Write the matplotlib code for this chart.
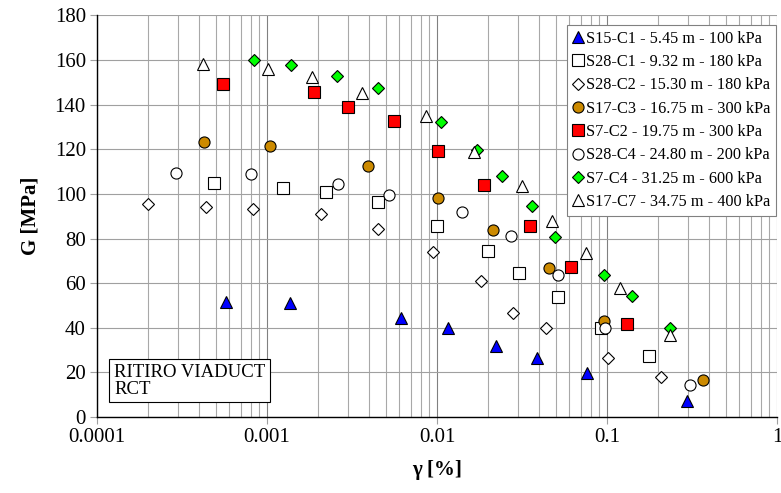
import numpy as np
import matplotlib
matplotlib.use('Agg')
import matplotlib.pyplot as plt
from matplotlib.ticker import LogLocator, FixedLocator, NullFormatter, FixedFormatter

plt.rcParams['font.family'] = ['Liberation Serif', 'DejaVu Serif']

# shear strain [%] and shear modulus G [MPa] for each specimen
s15_c1_x = [0.000574, 0.00136, 0.00611, 0.0116, 0.0222, 0.0387, 0.0763, 0.295]
s15_c1_g = [51.6, 51.0, 44.2, 39.8, 32.0, 26.3, 19.7, 7.2]

s28_c1_x = [0.000488, 0.00124, 0.00222, 0.00450, 0.00995, 0.0200, 0.0305, 0.0515, 0.0922, 0.176]
s28_c1_g = [104.9, 102.8, 100.9, 96.4, 85.8, 74.3, 64.4, 53.7, 40.0, 27.3]

s28_c2_x = [0.000200, 0.000438, 0.000827, 0.00209, 0.00450, 0.00944, 0.0182, 0.0279, 0.0436, 0.101, 0.207]
s28_c2_g = [95.3, 94.3, 93.4, 90.9, 84.3, 74.0, 61.0, 46.5, 39.9, 26.6, 17.8]

s17_c3_x = [0.000428, 0.00104, 0.00391, 0.0102, 0.0213, 0.0454, 0.0964, 0.366]
s17_c3_g = [123.3, 121.5, 112.5, 98.2, 83.8, 66.8, 43.0, 16.6]

s7_c2_x = [0.000551, 0.00190, 0.00299, 0.00558, 0.0101, 0.0188, 0.0351, 0.0611, 0.131]
s7_c2_g = [149.3, 145.7, 138.8, 132.8, 119.1, 104.0, 85.8, 67.4, 41.7]

s28_c4_x = [0.000290, 0.000809, 0.00260, 0.00524, 0.0140, 0.0272, 0.0517, 0.0973, 0.307]
s28_c4_g = [109.4, 108.9, 104.5, 99.7, 92.0, 81.0, 63.8, 39.8, 14.3]

s7_c4_x = [0.000839, 0.00138, 0.00258, 0.00452, 0.0105, 0.0171, 0.0241, 0.0361, 0.0492, 0.0955, 0.140, 0.235]
s7_c4_g = [159.9, 158.0, 152.9, 147.6, 132.4, 119.7, 107.9, 94.7, 80.8, 63.8, 54.1, 40.0]

s17_c7_x = [0.000421, 0.00101, 0.00184, 0.00360, 0.00860, 0.0166, 0.0316, 0.0476, 0.0752, 0.120, 0.235]
s17_c7_g = [158.3, 155.9, 152.3, 145.4, 134.8, 118.8, 103.6, 87.7, 73.4, 58.0, 36.8]

labels = ['S15-C1 - 5.45 m - 100 kPa',
          'S28-C1 - 9.32 m - 180 kPa',
          'S28-C2 - 15.30 m - 180 kPa',
          'S17-C3 - 16.75 m - 300 kPa',
          'S7-C2 - 19.75 m - 300 kPa',
          'S28-C4 - 24.80 m - 200 kPa',
          'S7-C4 - 31.25 m - 600 kPa',
          'S17-C7 - 34.75 m - 400 kPa']

x_ticks = [0.0001, 0.001, 0.01, 0.1, 1]
x_ticklabels = ['0.0001', '0.001', '0.01', '0.1', '1']
y_ticks = list(range(0, 181, 20))

series = [
    (s15_c1_x, s15_c1_g, '^', '#0000ff', 8),
    (s28_c1_x, s28_c1_g, 's', 'white', 8),
    (s28_c2_x, s28_c2_g, 'D', 'white', 6.0),
    (s17_c3_x, s17_c3_g, 'o', '#cc8a00', 8),
    (s7_c2_x, s7_c2_g, 's', '#ff0000', 8),
    (s28_c4_x, s28_c4_g, 'o', 'white', 8),
    (s7_c4_x, s7_c4_g, 'D', '#00ff00', 6.0),
    (s17_c7_x, s17_c7_g, '^', 'white', 8),
]

fig = plt.figure(figsize=(7.81, 4.93), dpi=100)
ax = fig.add_axes([0.1242, 0.1542, 0.8707, 0.8144])

for (x, g, m, fc, ms), lab in zip(series, labels):
    ax.plot(x, g, linestyle='none', marker=m, markersize=ms,
            markerfacecolor=fc, markeredgecolor='black',
            markeredgewidth=0.8, label=lab, zorder=3)

ax.set_xscale('log')
ax.set_xlim(0.0001, 1)
ax.set_ylim(0, 180)

ax.xaxis.set_major_locator(FixedLocator(x_ticks))
ax.xaxis.set_major_formatter(FixedFormatter(x_ticklabels))
ax.xaxis.set_minor_locator(LogLocator(base=10, subs=np.arange(2, 10)))
ax.xaxis.set_minor_formatter(NullFormatter())
ax.set_yticks(y_ticks)

ax.grid(True, which='major', axis='x', color='#808080', linewidth=0.8)
ax.grid(True, which='minor', axis='x', color='#a8a8a8', linewidth=0.8)
ax.grid(True, which='major', axis='y', color='#a0a0a0', linewidth=0.8)
ax.set_axisbelow(True)

ax.tick_params(which='major', direction='out', length=5, width=0.8,
               color='#a0a0a0', labelsize=15, pad=3)
ax.tick_params(which='minor', length=0)

for side in ['top', 'right']:
    ax.spines[side].set_visible(False)
for side in ['left', 'bottom']:
    ax.spines[side].set_color('black')
    ax.spines[side].set_linewidth(1.0)

ax.set_xlabel('γ [%]', fontsize=15, fontweight='bold', labelpad=9)
ax.set_ylabel('G [MPa]', fontsize=15, fontweight='bold', labelpad=10)

leg = ax.legend(loc='upper left', bbox_to_anchor=(0.691, 0.976),
                borderaxespad=0, fontsize=11.7, handlelength=0.7,
                handletextpad=0.15, labelspacing=0.45, borderpad=0.35,
                fancybox=False, framealpha=1, edgecolor='#808080',
                numpoints=1)
leg.get_frame().set_linewidth(0.8)

ax.text(0.025, 0.133, 'RITIRO VIADUCT\nRCT', transform=ax.transAxes,
        fontsize=13.5, va='top', ha='left', linespacing=1.0,
        bbox=dict(boxstyle='square,pad=0.25', facecolor='white',
                  edgecolor='black', linewidth=0.8))

plt.savefig('out.png', dpi=100)
plt.close()
